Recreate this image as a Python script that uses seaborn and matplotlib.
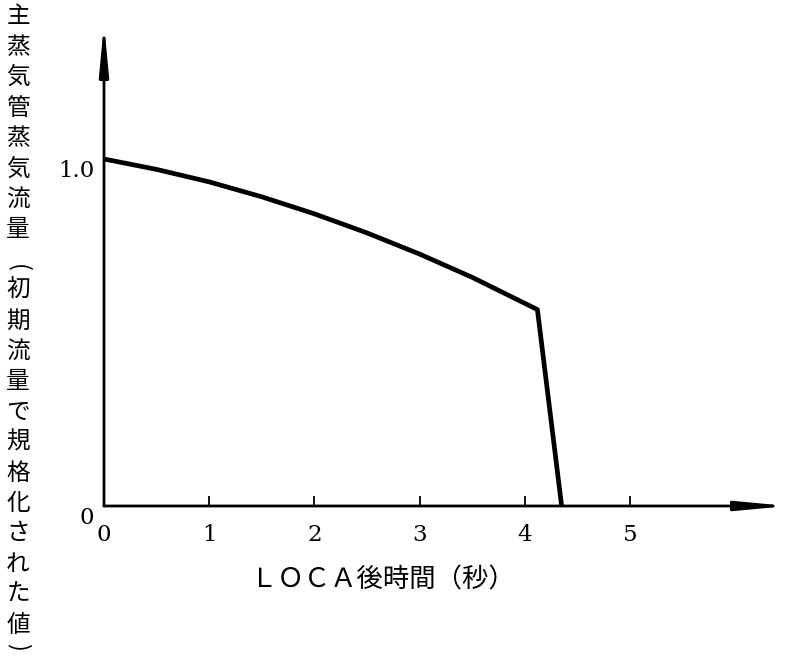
import matplotlib
matplotlib.use("Agg")
import matplotlib.pyplot as plt
import seaborn as sns
import pandas as pd
from matplotlib.transforms import ScaledTranslation

# Main steam line flow after LOCA, normalised to the initial flow
time_s = [0.0, 0.5, 1.0, 1.5, 2.0, 2.5, 3.0, 3.5, 4.0, 4.12, 4.35]
flow_norm = [1.0, 0.970, 0.934, 0.891, 0.842, 0.787, 0.726, 0.659, 0.584, 0.566, 0.0]

x_ticks = [0, 1, 2, 3, 4, 5]
x_tick_labels = ["0", "1", "2", "3", "4", "5"]
y_ticks = [0.0, 1.0]
y_tick_labels = ["0", "1.0"]

x_label = "ＬＯＣＡ後時間（秒）"
y_label = "主蒸気管蒸気流量(初期流量で規格化された値)"

sns.set_theme(style="white")
plt.rcParams["font.family"] = ["Noto Sans CJK JP", "DejaVu Sans"]

W, H = 788, 663
fig = plt.figure(figsize=(W / 100, H / 100), dpi=100)
fig.patch.set_facecolor("white")

x0_px, y0_px, xr_px, yt_px = 104, 506, 788, 23
ax = fig.add_axes([x0_px / W, (H - y0_px) / H, (xr_px - x0_px) / W, (y0_px - yt_px) / H])
ax.set_facecolor("white")

df = pd.DataFrame({"time": time_s, "flow": flow_norm})
sns.lineplot(data=df, x="time", y="flow", ax=ax, color="black", linewidth=3.4,
             sort=False, estimator=None)

x_max = (xr_px - x0_px) / 105.2
y_max = (y0_px - yt_px) / 347.0
ax.set_xlim(0, x_max)
ax.set_ylim(0, y_max)

for s in ax.spines.values():
    s.set_visible(False)

# axes drawn as arrows
arrow_kw = dict(arrowstyle="-|>,head_length=3.0,head_width=0.28", color="black",
                lw=2.0, shrinkA=0, shrinkB=0, mutation_scale=10)
ax.annotate("", xy=(0, y_max), xytext=(0, 0), arrowprops=arrow_kw, annotation_clip=False)
ax.annotate("", xy=(x_max, 0), xytext=(0, 0), arrowprops=arrow_kw, annotation_clip=False)

ax.set_xticks(x_ticks, x_tick_labels)
ax.set_yticks(y_ticks, y_tick_labels)
ax.tick_params(axis="x", direction="in", length=7, width=1.3, color="black",
               pad=13, labelsize=16.5, labelcolor="black", bottom=True)
ax.tick_params(axis="y", length=0, pad=7, labelsize=16.5, labelcolor="black", left=True)
ax.set_xlabel("")
ax.set_ylabel("")

shift = ScaledTranslation(0, -9 / 100, fig.dpi_scale_trans)
for lab in ax.get_xticklabels() + ax.get_yticklabels():
    lab.set_fontfamily("DejaVu Serif")
for lab in ax.get_yticklabels():
    lab.set_transform(lab.get_transform() + shift)

fig.text(383 / W, 1 - 580 / H, x_label, ha="center", va="center", fontsize=19, color="black")

# vertical axis title, one upright character per row; brackets are turned
# a quarter turn and tucked against the characters they enclose
step = 30.4
for i, ch in enumerate(y_label):
    yc = 17 + step * i
    if ch == "(":
        fig.text(18 / W, 1 - (yc + 8) / H, ch, ha="center", va="center",
                 rotation=-90, fontsize=17, color="black")
    elif ch == ")":
        fig.text(18 / W, 1 - (yc - 8) / H, ch, ha="center", va="center",
                 rotation=-90, fontsize=17, color="black")
    else:
        fig.text(18 / W, 1 - yc / H, ch, ha="center", va="center",
                 fontsize=17, color="black")

fig.savefig("out.png", dpi=100, facecolor="white")
